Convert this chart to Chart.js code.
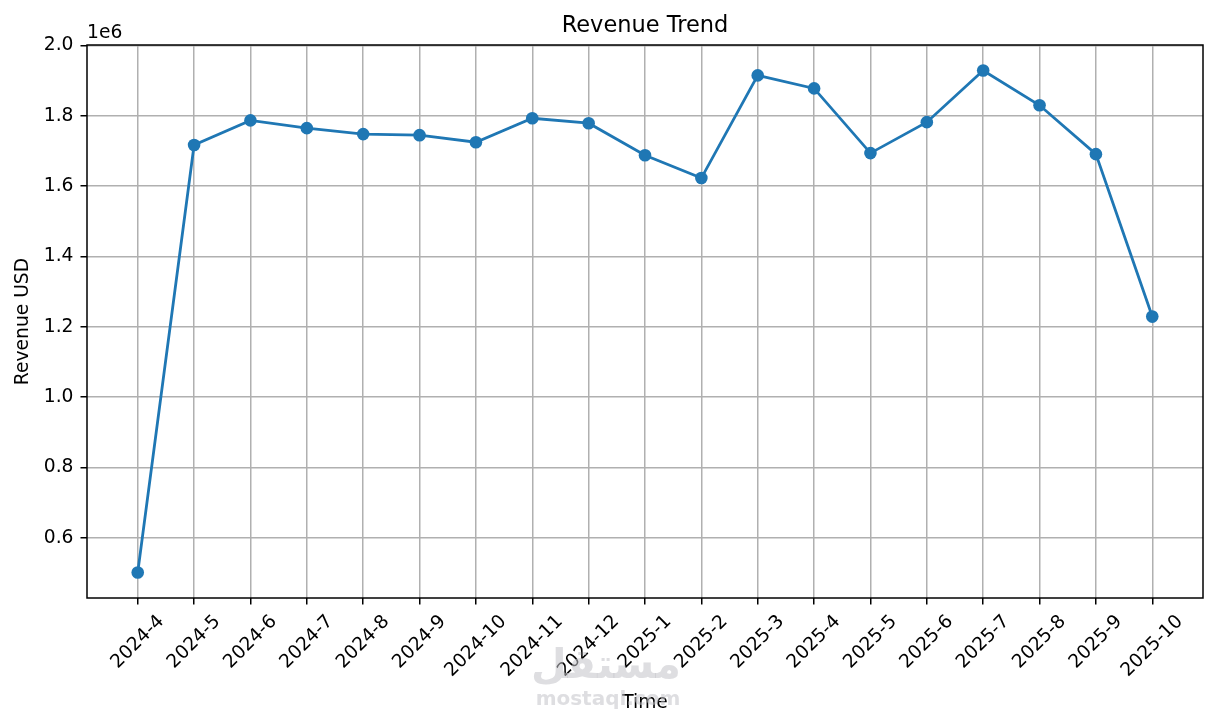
<!DOCTYPE html>
<html>
<head>
<meta charset="utf-8">
<script src="https://cdn.jsdelivr.net/npm/chart.js@4"></script>
<style>
  html, body { margin: 0; padding: 0; background: #fff; }
  #wrap { width: 1217px; height: 727px; }
</style>
</head>
<body>
<div id="wrap"><canvas id="revenueChart"></canvas></div>
<script>
// values
const months = ['2024-4', '2024-5', '2024-6', '2024-7', '2024-8', '2024-9', '2024-10',
    '2024-11', '2024-12', '2025-1', '2025-2', '2025-3', '2025-4', '2025-5', '2025-6',
    '2025-7', '2025-8', '2025-9', '2025-10'];
const revenue = [501000, 1717000, 1787000, 1765000, 1748000, 1745000, 1725000,
    1793000, 1779000, 1688000, 1623000, 1915000, 1878000, 1694000, 1782000,
    1929000, 1830000, 1691000, 1229000];
const yTicks = [600000, 800000, 1000000, 1200000, 1400000, 1600000, 1800000, 2000000];

const FONT = '"DejaVu Sans", sans-serif';
const TICK_SIZE = 18.7;

// title, frame, offset text and rotated month labels, drawn like matplotlib does
const decorPlugin = {
    id: 'decor',
    afterDraw(chart) {
        const ctx = chart.ctx;
        const area = chart.chartArea;
        const xs = chart.scales.x;

        ctx.save();
        ctx.strokeStyle = '#000';
        ctx.lineWidth = 1.5;
        ctx.strokeRect(area.left, area.top, area.right - area.left, area.bottom - area.top);

        ctx.fillStyle = '#000';
        ctx.font = '22.5px ' + FONT;
        ctx.textAlign = 'center';
        ctx.textBaseline = 'alphabetic';
        ctx.fillText('Revenue Trend', (area.left + area.right) / 2, 32);

        ctx.font = TICK_SIZE + 'px ' + FONT;
        ctx.textAlign = 'left';
        ctx.textBaseline = 'bottom';
        ctx.fillText('1e6', area.left, area.top - 3);

        const a = Math.PI / 4;
        const top = area.bottom + 13;
        months.forEach((m, i) => {
            const w = ctx.measureText(m).width;
            const h = TICK_SIZE * 1.16;
            const bh = (w + h) * Math.sin(a);
            ctx.save();
            ctx.translate(xs.getPixelForValue(i), top + bh / 2);
            ctx.rotate(-a);
            ctx.textAlign = 'center';
            ctx.textBaseline = 'middle';
            ctx.fillText(m, 0, 0);
            ctx.restore();
        });

        // site watermark
        ctx.fillStyle = 'rgba(195, 195, 200, 0.55)';
        ctx.textAlign = 'center';
        ctx.textBaseline = 'alphabetic';
        ctx.font = 'bold 41px ' + FONT;
        ctx.fillText('مستقل', 606, 678);
        ctx.font = 'bold 20px ' + FONT;
        ctx.fillText('mostaql.com', 608, 705);
        ctx.restore();
    }
};

const ctx = document.getElementById('revenueChart').getContext('2d');
new Chart(ctx, {
    type: 'line',
    data: {
        datasets: [{
            label: 'Revenue',
            data: revenue.map((v, i) => ({ x: i, y: v })),
            borderColor: '#1f77b4',
            backgroundColor: '#1f77b4',
            borderWidth: 2.8,
            pointRadius: 6.3,
            pointHoverRadius: 6.3,
            pointBorderWidth: 0,
            fill: false,
            tension: 0
        }]
    },
    options: {
        responsive: true,
        maintainAspectRatio: false,
        animation: false,
        layout: { padding: { left: 0, right: 14, top: 45, bottom: 0 } },
        plugins: {
            legend: { display: false },
            tooltip: { enabled: false },
            title: { display: false }
        },
        scales: {
            x: {
                type: 'linear',
                min: -0.9,
                max: 18.9,
                afterBuildTicks: scale => {
                    scale.ticks = months.map((m, i) => ({ value: i }));
                },
                afterFit: scale => { scale.height = 129; },
                ticks: { display: false },
                grid: {
                    color: '#b0b0b0',
                    lineWidth: 1.5,
                    tickColor: '#000',
                    tickLength: 6.5,
                    tickWidth: 1.5
                },
                border: { display: false },
                title: {
                    display: true,
                    text: 'Time',
                    color: '#000',
                    font: { family: FONT, size: TICK_SIZE },
                    padding: { top: 4, bottom: 13 }
                }
            },
            y: {
                min: 428500,
                max: 2001500,
                afterBuildTicks: scale => {
                    scale.ticks = yTicks.map(v => ({ value: v }));
                },
                afterFit: scale => { scale.width = 87; },
                ticks: {
                    color: '#000',
                    font: { family: FONT, size: TICK_SIZE },
                    padding: 7,
                    callback: v => (v / 1e6).toFixed(1)
                },
                grid: {
                    color: '#b0b0b0',
                    lineWidth: 1.5,
                    tickColor: '#000',
                    tickLength: 6.5,
                    tickWidth: 1.5
                },
                border: { display: false },
                title: {
                    display: true,
                    text: 'Revenue USD',
                    color: '#000',
                    font: { family: FONT, size: TICK_SIZE },
                    padding: { top: 12, bottom: 4 }
                }
            }
        }
    },
    plugins: [decorPlugin]
});
</script>
</body>
</html>
